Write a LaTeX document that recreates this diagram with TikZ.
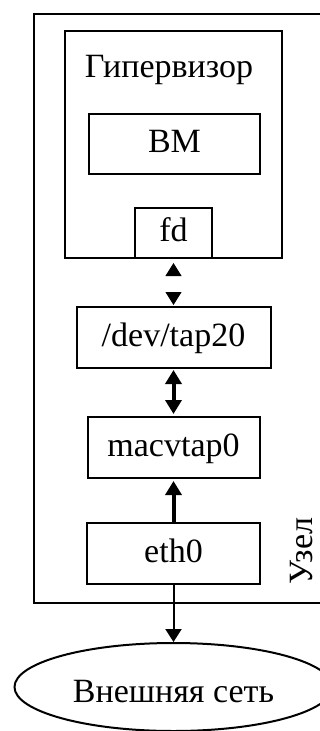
\documentclass[tikz,border=0pt]{standalone}
\usepackage{fontspec}
\setmainfont{Liberation Serif}
\usetikzlibrary{arrows.meta,shapes.geometric}
\begin{document}
\begin{tikzpicture}[x=1pt,y=-1pt,
  every node/.style={font=\fontsize{34}{40}\selectfont},
  box/.style={draw,line width=2pt,rectangle,inner sep=0pt,text height=25pt,text depth=8pt},
  thickarrow/.style={line width=4pt},
  thinarrow/.style={line width=2pt}]
\useasboundingbox (0,0) rectangle (320,731);
\clip (0,0) rectangle (320,731);
% outer node box
\node[draw,line width=2pt,rectangle,inner sep=0pt,minimum width=306pt,minimum height=589pt] (host) at (187,308.5) {};
\node[anchor=base,rotate=90] (hostlbl) at (312,551) {Узел};
% hypervisor
\node[draw,line width=2pt,rectangle,inner sep=0pt,minimum width=217pt,minimum height=227pt] (hyp) at (173.5,144.5) {};
\node[anchor=base] (hyplbl) at (169,77) {Гипервизор};
\node[box,minimum width=171pt,minimum height=60pt] (vm) at (174.5,144) {ВМ};
\node[box,minimum width=77pt,minimum height=50pt,fill=white] (fd) at (173.5,233) {fd};
\node[box,minimum width=194pt,minimum height=61pt] (tap) at (173.5,337.5) {/dev/tap20};
\node[box,minimum width=172pt,minimum height=61pt] (mac) at (173.5,447.5) {macvtap0};
\node[box,minimum width=173pt,minimum height=61pt] (eth) at (173.5,553.5) {eth0};
\node[draw,line width=2pt,ellipse,inner sep=0pt,minimum width=318pt,minimum height=88pt,text height=32pt,text depth=2pt] (net) at (173.5,687) {Внешняя сеть};
% connectors
\draw[white,line width=1pt,{Triangle[black,width=16pt,length=13pt]}-{Triangle[black,width=16pt,length=13pt]},shorten <=4pt,shorten >=1pt] (fd.south) -- (tap.north);
\draw[thickarrow,{Triangle[width=16pt,length=14pt]}-{Triangle[width=16pt,length=14pt]},shorten <=1pt,shorten >=2pt] (tap.south) -- (mac.north);
\draw[thickarrow,-{Triangle[width=16pt,length=14pt]},shorten >=2pt] (eth.north) -- (mac.south);
\draw[thinarrow,-{Triangle[width=16pt,length=13pt]}] (eth.south) -- (net.north);
\end{tikzpicture}
\end{document}
